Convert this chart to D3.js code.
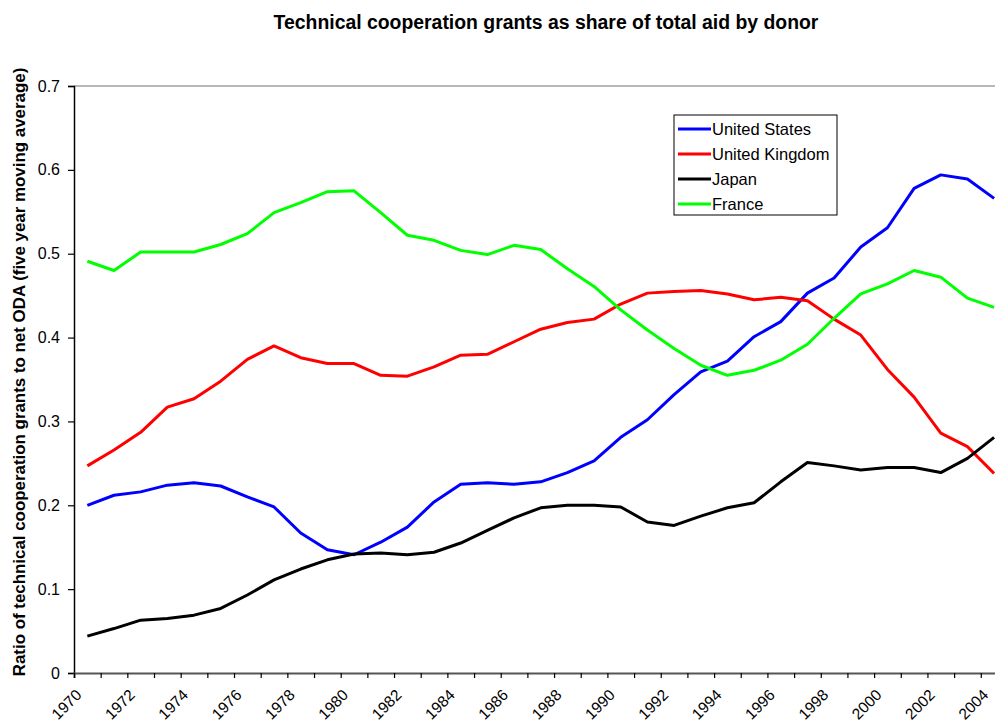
<!DOCTYPE html>
<html>
<head>
<meta charset="utf-8">
<script src="https://cdn.jsdelivr.net/npm/d3@7"></script>
<style>
  body { margin: 0; background: #fff; }
  text { font-family: Arial, "Liberation Sans", sans-serif; }
</style>
</head>
<body>
<div id="chart"></div>
<script>
// data
const years = d3.range(1970, 2005);
const unitedStates = [0.200, 0.212, 0.216, 0.224, 0.227, 0.223, 0.210, 0.198, 0.167, 0.147,
  0.141, 0.156, 0.174, 0.204, 0.225, 0.227, 0.225, 0.228, 0.239, 0.253,
  0.281, 0.302, 0.332, 0.359, 0.372, 0.401, 0.419, 0.453, 0.471, 0.508,
  0.531, 0.578, 0.594, 0.589, 0.566];
const unitedKingdom = [0.247, 0.266, 0.287, 0.317, 0.327, 0.348, 0.374, 0.390, 0.376, 0.369,
  0.369, 0.355, 0.354, 0.365, 0.379, 0.380, 0.395, 0.410, 0.418, 0.422,
  0.440, 0.453, 0.455, 0.456, 0.452, 0.445, 0.448, 0.444, 0.422, 0.403,
  0.362, 0.329, 0.286, 0.270, 0.238];
const japan = [0.044, 0.053, 0.063, 0.065, 0.069, 0.077, 0.093, 0.111, 0.124, 0.135,
  0.142, 0.143, 0.141, 0.144, 0.155, 0.170, 0.185, 0.197, 0.200, 0.200,
  0.198, 0.180, 0.176, 0.187, 0.197, 0.203, 0.228, 0.251, 0.247, 0.242,
  0.245, 0.245, 0.239, 0.256, 0.281];
const france = [0.491, 0.480, 0.502, 0.502, 0.502, 0.511, 0.524, 0.549, 0.561, 0.574,
  0.575, 0.549, 0.522, 0.516, 0.504, 0.499, 0.510, 0.505, 0.482, 0.461,
  0.433, 0.409, 0.387, 0.367, 0.355, 0.361, 0.373, 0.392, 0.423, 0.452,
  0.464, 0.480, 0.472, 0.447, 0.436];
const seriesNames = ["United States", "United Kingdom", "Japan", "France"];
const seriesColors = ["#0000ff", "#ff0000", "#000000", "#00ff00"];
const yTicks = [0, 0.1, 0.2, 0.3, 0.4, 0.5, 0.6, 0.7];

const series = [unitedStates, unitedKingdom, japan, france].map((vals, i) => ({
  name: seriesNames[i],
  color: seriesColors[i],
  values: vals.map((v, j) => ({ year: years[j], value: v }))
}));

const width = 995, height = 727;
const margin = { top: 86, left: 74, bottom: 54 };
const yearWidth = 26.67;

const svg = d3.select("#chart").append("svg")
  .attr("width", width).attr("height", height);

svg.append("rect").attr("width", width).attr("height", height).attr("fill", "#fff");

const x = d3.scaleLinear()
  .domain([1970, 2005])
  .range([margin.left, margin.left + 35 * yearWidth]);

const y = d3.scaleLinear()
  .domain([0, 0.7])
  .range([height - margin.bottom, margin.top]);

// title
svg.append("text")
  .attr("x", 546).attr("y", 29)
  .attr("text-anchor", "middle")
  .attr("font-size", 19.4).attr("font-weight", "bold")
  .text("Technical cooperation grants as share of total aid by donor");

// plot area top border
svg.append("line")
  .attr("x1", margin.left).attr("x2", width)
  .attr("y1", y(0.7)).attr("y2", y(0.7))
  .attr("stroke", "#a0a0a0").attr("stroke-width", 1.5);

// y axis
const yAxis = svg.append("g")
  .attr("transform", "translate(" + margin.left + ",0)")
  .call(d3.axisLeft(y).tickValues(yTicks).tickSize(6).tickPadding(8)
    .tickFormat(d => d === 0 ? "0" : d.toFixed(1)));
yAxis.select(".domain").attr("stroke", "#000").attr("stroke-width", 1.5);
yAxis.selectAll(".tick line").attr("stroke", "#000").attr("stroke-width", 1.2);
yAxis.selectAll("text").attr("font-size", 16).attr("fill", "#000")
  .attr("font-family", "Arial, 'Liberation Sans', sans-serif");

// x axis
const xAxis = svg.append("g")
  .attr("transform", "translate(0," + y(0) + ")")
  .call(d3.axisBottom(x).tickValues(d3.range(1970, 2006)).tickSize(5)
    .tickFormat(d => d % 2 === 0 && d < 2005 ? String(d) : ""));
xAxis.select(".domain").attr("stroke", "#555").attr("stroke-width", 2);
xAxis.selectAll(".tick line").attr("stroke", "#000").attr("stroke-width", 1.2);
xAxis.selectAll("text")
  .attr("font-size", 15.5).attr("fill", "#000")
  .attr("font-family", "Arial, 'Liberation Sans', sans-serif")
  .attr("text-anchor", "end")
  .attr("dy", null)
  .attr("y", 0)
  .attr("transform", "translate(8,23) rotate(-45)");

// y axis title
svg.append("text")
  .attr("transform", "translate(25,372) rotate(-90)")
  .attr("text-anchor", "middle")
  .attr("font-size", 16.9).attr("font-weight", "bold")
  .text("Ratio of technical cooperation grants to net ODA (five year moving average)");

// lines
const line = d3.line()
  .x(d => x(d.year + 0.5))
  .y(d => y(d.value));

svg.selectAll(".series")
  .data(series)
  .enter()
  .append("path")
    .attr("class", "series")
    .attr("d", d => line(d.values))
    .attr("fill", "none")
    .attr("stroke", d => d.color)
    .attr("stroke-width", 3)
    .attr("stroke-linejoin", "round");

// legend
const legend = svg.append("g").attr("transform", "translate(674,115)");
legend.append("rect")
  .attr("width", 163).attr("height", 100)
  .attr("fill", "#fff").attr("stroke", "#000").attr("stroke-width", 1);
const item = legend.selectAll(".item")
  .data(series)
  .enter()
  .append("g")
    .attr("transform", (d, i) => "translate(0," + (14 + i * 25) + ")");
item.append("line")
  .attr("x1", 4).attr("x2", 37)
  .attr("stroke", d => d.color).attr("stroke-width", 3);
item.append("text")
  .attr("x", 38).attr("y", 6)
  .attr("font-size", 16.5)
  .text(d => d.name);
</script>
</body>
</html>
